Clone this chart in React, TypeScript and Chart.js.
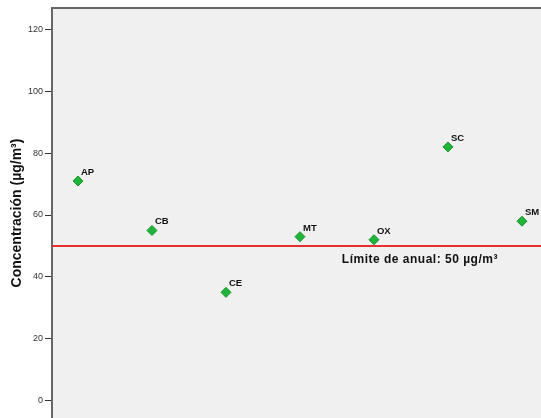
import React, { useEffect, useRef } from "react";
import { Chart, registerables } from "chart.js";

Chart.register(...registerables);

const stations = ["AP", "CB", "CE", "MT", "OX", "SC", "SM"];
const concentrations = [71, 55, 35, 53, 52, 82, 58];
const yTickValues = [0, 20, 40, 60, 80, 100, 120];
const limitValue = 50;
const limitLabel = "Límite de anual: 50 µg/m³";
const yTitle = "Concentración (µg/m³)";

const FONT = "'Liberation Sans', Arial, sans-serif";

export default function App() {
  const ref = useRef<HTMLCanvasElement | null>(null);

  useEffect(() => {
    document.body.style.margin = "0";
    document.body.style.overflow = "hidden";
    const canvas = ref.current;
    if (!canvas) return;

    const plugin = {
      id: "decor",
      beforeDraw(chart: any) {
        const { ctx, chartArea } = chart;
        ctx.save();
        ctx.fillStyle = "#f0f0f0";
        ctx.fillRect(chartArea.left, chartArea.top, chartArea.right - chartArea.left, chartArea.bottom - chartArea.top);
        ctx.restore();
      },
      beforeDatasetsDraw(chart: any) {
        const { ctx, chartArea, scales } = chart;
        const y = scales.y.getPixelForValue(limitValue);
        ctx.save();
        ctx.strokeStyle = "#e5302f";
        ctx.lineWidth = 2;
        ctx.beginPath();
        ctx.moveTo(chartArea.left, y);
        ctx.lineTo(chartArea.right, y);
        ctx.stroke();
        ctx.fillStyle = "#111";
        ctx.font = `bold 12px ${FONT}`;
        (ctx as any).letterSpacing = "0.5px";
        ctx.textAlign = "center";
        ctx.textBaseline = "middle";
        ctx.fillText(limitLabel, scales.x.getPixelForValue(4.62), y + 14);
        (ctx as any).letterSpacing = "0px";
        // top border
        ctx.strokeStyle = "#666";
        ctx.lineWidth = 2;
        ctx.beginPath();
        ctx.moveTo(chartArea.left, chartArea.top);
        ctx.lineTo(chartArea.right, chartArea.top);
        ctx.stroke();
        ctx.restore();
      },
      afterDatasetsDraw(chart: any) {
        const { ctx } = chart;
        const meta = chart.getDatasetMeta(0);
        ctx.save();
        ctx.fillStyle = "#111";
        ctx.font = `bold 9.5px ${FONT}`;
        ctx.textAlign = "left";
        ctx.textBaseline = "alphabetic";
        meta.data.forEach((pt: any, i: number) => {
          ctx.fillText(stations[i], pt.x + 3, pt.y - 6);
        });
        ctx.restore();
      },
    };

    const chart = new Chart(canvas, {
      type: "scatter",
      data: {
        datasets: [
          {
            data: concentrations.map((v, i) => ({ x: i, y: v })),
            pointStyle: "rectRot",
            pointRadius: 5,
            backgroundColor: "#22b33a",
            borderColor: "#14962a",
            borderWidth: 1,
          },
        ],
      },
      options: {
        animation: false,
        responsive: false,
        devicePixelRatio: 1,
        layout: { autoPadding: false, padding: { top: 8, right: 0, bottom: 0, left: 0 } },
        plugins: { legend: { display: false }, tooltip: { enabled: false } },
        scales: {
          x: {
            type: "linear",
            display: false,
            min: -0.351,
            max: 6.257,
          },
          y: {
            type: "linear",
            min: -5.6,
            max: 126.9,
            afterFit(scale: any) {
              scale.width = 52;
              scale.paddingTop = 0;
              scale.paddingBottom = 0;
            },
            afterBuildTicks(scale: any) {
              scale.ticks = yTickValues.map((v) => ({ value: v }));
            },
            ticks: {
              color: "#333",
              font: { family: FONT, size: 9 },
              padding: 2,
            },
            grid: {
              drawOnChartArea: false,
              drawTicks: true,
              tickLength: 7,
              color: "#333",
              lineWidth: 1,
            },
            border: { display: true, color: "#666", width: 2 },
            title: {
              display: true,
              text: yTitle,
              color: "#111",
              font: { family: FONT, size: 14, weight: "bold" },
              padding: { top: 8.5, bottom: 0 },
            },
          },
        },
      },
      plugins: [plugin],
    } as any);

    return () => chart.destroy();
  }, []);

  return (
    <div style={{ position: "fixed", left: 0, top: 0, width: 541, height: 418, background: "#fff" }}>
      <canvas ref={ref} width={541} height={418} style={{ width: 541, height: 418, display: "block" }} />
    </div>
  );
}
